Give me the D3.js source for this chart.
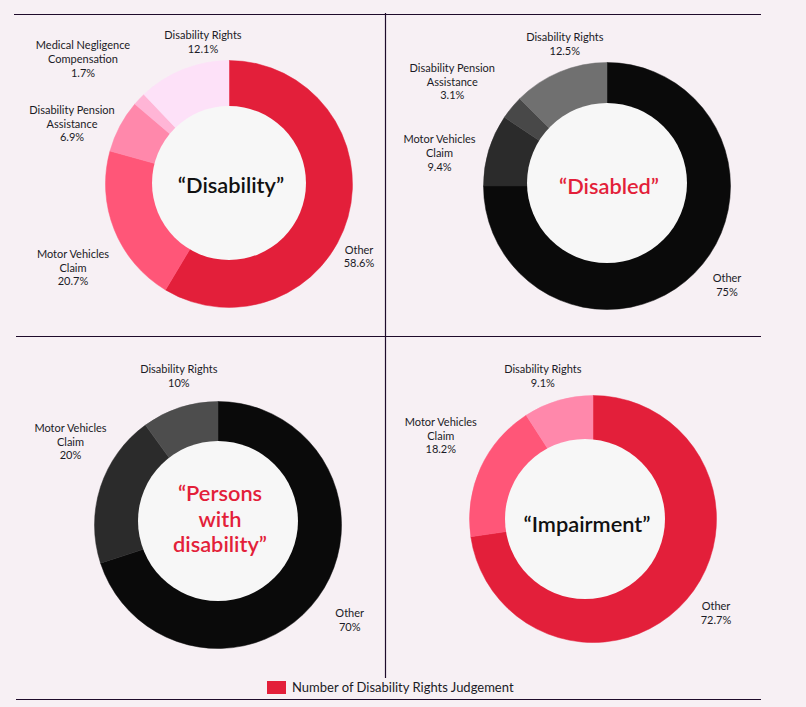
<!DOCTYPE html>
<html>
<head>
<meta charset="utf-8">
<script src="https://cdn.jsdelivr.net/npm/d3@7"></script>
<style>
  html, body { margin: 0; padding: 0; background: #f7f0f4; }
  svg { display: block; font-family: Lato, "Open Sans", sans-serif; }
</style>
</head>
<body>
<svg id="chart" width="806" height="707"></svg>
<script>
// ---- data ----
const titles = [["“Disability”"], ["“Disabled”"], ["“Persons", "with", "disability”"], ["“Impairment”"]];
const categories1 = ["Other", "Motor Vehicles Claim", "Disability Pension Assistance", "Medical Negligence Compensation", "Disability Rights"];
const values1 = [58.6, 20.7, 6.9, 1.7, 12.1];
const categories2 = ["Other", "Motor Vehicles Claim", "Disability Pension Assistance", "Disability Rights"];
const values2 = [75, 9.4, 3.1, 12.5];
const categories3 = ["Other", "Motor Vehicles Claim", "Disability Rights"];
const values3 = [70, 20, 10];
const categories4 = ["Other", "Motor Vehicles Claim", "Disability Rights"];
const values4 = [72.7, 18.2, 9.1];
const valueLabels1 = ["58.6%", "20.7%", "6.9%", "1.7%", "12.1%"];
const valueLabels2 = ["75%", "9.4%", "3.1%", "12.5%"];
const valueLabels3 = ["70%", "20%", "10%"];
const valueLabels4 = ["72.7%", "18.2%", "9.1%"];
const legendLabel = "Number of Disability Rights Judgement";

// ---- styling / layout ----
const reds = ["#e31f3a", "#ff5678", "#ff88ab", "#ffb5d6", "#fde1f8"];
const reds4 = ["#e31f3a", "#ff5678", "#ff88ab"];
const grays2 = ["#0a0a0a", "#2b2b2b", "#484848", "#707070"];
const grays3 = ["#0a0a0a", "#2b2b2b", "#4d4d4d"];

// label line-break templates (category text split into lines)
const labelLines = {
  "Other": ["Other"],
  "Motor Vehicles Claim": ["Motor Vehicles", "Claim"],
  "Disability Pension Assistance": ["Disability Pension", "Assistance"],
  "Medical Negligence Compensation": ["Medical Negligence", "Compensation"],
  "Disability Rights": ["Disability Rights"]
};

const charts = [
  { cats: categories1, vals: values1, vlabels: valueLabels1, colors: reds, title: titles[0], titleColor: "#111",
    cx: 229, cy: 184, inner: { dx: 0, dy: -1, r: 77 }, titleY: 193,
    labelPos: [[130, 69.5], [-156, 73.7], [-157, -70.3], [-146, -134.7], [-26, -145]] },
  { cats: categories2, vals: values2, vlabels: valueLabels2, colors: grays2, title: titles[1], titleColor: "#e31f3a",
    cx: 607, cy: 186, inner: { dx: 0, dy: -3, r: 80 }, titleY: 194,
    labelPos: [[120, 95.7], [-167.5, -42.7], [-154.7, -114.3], [-42.2, -145.3]] },
  { cats: categories3, vals: values3, vlabels: valueLabels3, colors: grays3, title: titles[2], titleColor: "#e31f3a",
    cx: 218, cy: 525, inner: { dx: 0, dy: -4, r: 80 }, titleY: 501,
    labelPos: [[131.7, 91.7], [-147.5, -93.3], [-39.2, -152.3]] },
  { cats: categories4, vals: values4, vlabels: valueLabels4, colors: reds4, title: titles[3], titleColor: "#111",
    cx: 593, cy: 519, inner: { dx: -8, dy: 0, r: 80 }, titleY: 532,
    labelPos: [[123, 91], [-152.2, -93.3], [-50.2, -146.3]] }
];
const outerR = 123.5;
const labelLineH = 13.8;

const svg = d3.select("#chart");

// frame lines
const lineColor = "#1f0c2b";
const frame = svg.append("g").attr("stroke", lineColor).attr("stroke-width", 1.2);
frame.append("line").attr("x1", 14).attr("x2", 761).attr("y1", 14.5).attr("y2", 14.5);
frame.append("line").attr("x1", 16).attr("x2", 761).attr("y1", 336.5).attr("y2", 336.5);
frame.append("line").attr("x1", 16).attr("x2", 761).attr("y1", 699.5).attr("y2", 699.5);
frame.append("line").attr("x1", 385.5).attr("x2", 385.5).attr("y1", 13).attr("y2", 678);

const pie = d3.pie().sort(null).value(d => d);
const arc = d3.arc().innerRadius(60).outerRadius(outerR);

charts.forEach(c => {
  const g = svg.append("g").attr("transform", `translate(${c.cx},${c.cy})`);
  const color = d3.scaleOrdinal().domain(c.cats).range(c.colors);
  const arcs = pie(c.vals);
  g.selectAll("path").data(arcs).join("path")
    .attr("d", arc)
    .attr("fill", (d, i) => color(c.cats[i]))
    .attr("stroke", (d, i) => color(c.cats[i]))
    .attr("stroke-width", 0.5);
  g.append("circle").attr("cx", c.inner.dx).attr("cy", c.inner.dy).attr("r", c.inner.r).attr("fill", "#f7f7f7");

  // title
  const t = svg.append("text")
    .attr("text-anchor", "middle")
    .attr("fill", c.titleColor)
    .attr("font-size", 21.8)
    .attr("font-weight", 600);
  c.title.forEach((line, i) => {
    t.append("tspan").attr("x", c.cx + c.inner.dx + 2).attr("y", c.titleY + i * 25.5).text(line);
  });

  // labels
  arcs.forEach((d, i) => {
    const lines = labelLines[c.cats[i]].concat([c.vlabels[i]]);
    const [ox, oy] = c.labelPos[i];
    const lt = svg.append("text")
      .attr("text-anchor", "middle")
      .attr("fill", "#1b1b26")
      .attr("font-size", 11);
    lines.forEach((ln, k) => {
      lt.append("tspan").attr("x", c.cx + ox).attr("y", c.cy + oy + k * labelLineH).text(ln);
    });
  });
});

// legend
const lg = svg.append("g").attr("transform", "translate(267,681)");
lg.append("rect").attr("width", 19).attr("height", 13).attr("fill", "#e31f3a");
lg.append("text").attr("x", 25).attr("y", 11).attr("font-size", 13).attr("fill", "#1b1b26").text(legendLabel);
</script>
</body>
</html>
